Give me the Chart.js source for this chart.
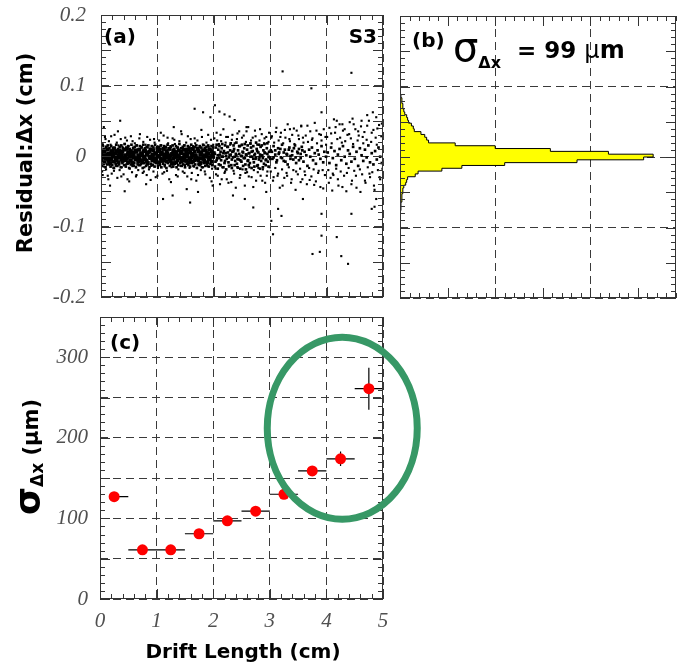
<!DOCTYPE html>
<html>
<head>
<meta charset="utf-8">
<script src="https://cdn.jsdelivr.net/npm/chart.js@4.4.1/dist/chart.umd.min.js"></script>
<style>
  html, body { margin: 0; padding: 0; background: #fff; }
  #wrap { position: relative; width: 677px; height: 666px; overflow: hidden; background: #fff; }
  canvas { position: absolute; }
</style>
</head>
<body>
<div id="wrap">
  <canvas id="chartA" width="392" height="318" style="left:0;top:0;width:392px;height:318px"></canvas>
  <canvas id="chartB" width="285" height="300" style="left:392px;top:0;width:285px;height:300px"></canvas>
  <canvas id="chartC" width="430" height="361" style="left:0;top:305px;width:430px;height:361px"></canvas>
</div>
<script>
// ---- panel (c): resolution per drift-length bin ----
const driftBins  = [0.25, 0.75, 1.25, 1.75, 2.25, 2.75, 3.25, 3.75, 4.25, 4.75];
const sigmaUm    = [127, 61, 61, 81, 97, 109, 130, 159, 174, 261];
const sigmaErr   = [3, 3, 3, 3, 3, 3, 4, 5, 9, 26];
const driftErrLo = [0, 0.25, 0.25, 0.25, 0.25, 0.25, 0.25, 0.25, 0.25, 0.25];
const driftErrHi = [0.25, 0.25, 0.25, 0.25, 0.25, 0.25, 0.25, 0.25, 0.25, 0.25];

// ---- panel (b): residual histogram (bin centre in cm, entries) ----
const histCenters = [-0.074, -0.070, -0.066, -0.062, -0.058, -0.054, -0.050, -0.046, -0.042, -0.038,
  -0.034, -0.030, -0.026, -0.022, -0.018, -0.014, -0.010, -0.006, -0.002,
  0.002, 0.006, 0.010, 0.014, 0.018, 0.022, 0.026, 0.030, 0.034, 0.038,
  0.042, 0.046, 0.050, 0.054, 0.058, 0.062, 0.066, 0.070, 0.074, 0.078, 0.082, 0.086];
const histCounts = [1, 1, 1, 2, 2, 2, 3, 3, 4, 6,
  7, 8, 16, 19, 44, 65, 110, 186, 256,
  266, 219, 158, 100, 58, 30, 28, 26, 22, 15,
  14, 12, 9, 8, 7, 5, 4, 3, 3, 2, 2, 1];
const histBinWidth = 0.004;

// ---- panel (a): residual vs drift length, [drift (1/100 cm), residual (1/1000 cm)] ----
const coreNear = [
  [1,4],[1,-6],[3,-2],[3,8],[6,6],[6,-9],[8,-4],[8,1],[11,9],[11,-3],[13,-7],[13,3],[16,2],[16,-10],[18,7],[18,-5],
  [21,-1],[21,5],[23,-8],[23,10],[26,4],[26,-3],[28,-6],[28,7],[31,0],[31,-9],[33,8],[33,-2],[36,-5],[36,3],[38,6],[38,-7],
  [41,-3],[41,9],[43,1],[43,-6],[46,10],[46,-4],[48,-9],[48,5],[51,3],[51,-1],[53,-7],[53,7],[56,5],[56,-10],[58,-2],[58,2],
  [61,8],[61,-5],[63,-4],[63,6],[66,1],[66,-8],[68,9],[68,-3],[71,-6],[71,4],[73,2],[73,-9],[76,7],[76,-1],[78,-5],[78,8],
  [81,3],[81,-7],[83,-10],[83,5],[86,6],[86,-2],[88,-3],[88,9],[91,0],[91,-6],[93,8],[93,-4],[96,-8],[96,3],[98,4],[98,-5],
  [101,-1],[101,7],[103,9],[103,-9],[106,-4],[106,2],[108,5],[108,-7],[111,-6],[111,10],[113,2],[113,-3],[116,7],[116,-8],
  [118,-2],[118,4],[121,10],[121,-5],[123,-7],[123,1],[126,3],[126,-10],[128,-4],[128,8],[131,6],[131,-2],[133,-9],[133,5],
  [136,1],[136,-6],[138,8],[138,-1],[141,-3],[141,6],[143,4],[143,-8],[146,-6],[146,9],[148,2],[148,-4],[151,7],[151,-7],
  [153,-1],[153,3],[156,9],[156,-9],[158,-5],[158,5],[161,3],[161,-2],[163,-8],[163,10],[166,6],[166,-6],[168,-2],[168,1],
  [171,10],[171,-4],[173,-6],[173,7],[176,2],[176,-10],[178,5],[178,-3],[181,-4],[181,8],[183,1],[183,-7],[186,8],[186,-1],
  [188,-9],[188,4],[191,3],[191,-5],[193,-3],[193,9],[196,7],[196,-8],[198,-1],[198,2],
  [2,0],[7,-1],[12,2],[17,-3],[22,1],[27,-2],[32,3],[37,0],[42,-4],[47,2],[52,-1],[57,4],[62,-3],[67,0],[72,1],[77,-2],
  [82,3],[87,-1],[92,2],[97,-4],[102,0],[107,3],[112,-2],[117,1],[122,-3],[127,2],[132,0],[137,-1],[142,4],[147,-2],
  [152,1],[157,-3],[162,2],[167,0],[172,-4],[177,3],[182,-1],[187,1],[192,-2],[197,0]
];
const coreEdge = [
  [0,12],[2,-14],[3,16],[5,-11],[6,10],[8,-16],[9,13],[11,-12],[12,15],[14,-10],[15,11],[17,-15],[18,14],[20,-13],[21,9],
  [23,-17],[24,12],[26,-11],[27,16],[29,-14],[30,10],[32,-12],[33,13],[35,-16],[36,15],[38,-10],[39,11],[41,-13],[42,17],
  [44,-15],[45,12],[47,-11],[48,14],[50,-17],[51,10],[53,-12],[54,16],[56,-14],[57,11],[59,-10],[60,13],[62,-16],[63,15],
  [65,-12],[66,9],[68,-13],[69,14],[71,-11],[72,12],[74,-17],[75,16],[77,-10],[78,11],[80,-14],[81,13],[83,-12],[84,15],
  [86,-16],[87,10],[89,-11],[90,14],[92,-13],[93,12],[95,-15],[96,16],[98,-10],[99,11],
  [101,-14],[103,13],[104,-12],[106,15],[107,-16],[109,10],[110,-11],[112,14],[113,-13],[115,12],[116,-17],[118,16],
  [119,-10],[121,11],[122,-14],[124,13],[125,-12],[127,15],[128,-15],[130,10],[131,-11],[133,14],[134,-16],[136,12],
  [137,-13],[139,17],[140,-10],[142,11],[143,-14],[145,13],[146,-12],[148,15],[149,-16],[151,10],[152,-11],[154,14],
  [155,-13],[157,12],[158,-15],[160,16],[161,-10],[163,11],[164,-14],[166,13],[167,-12],[169,15],[170,-17],[172,10],
  [173,-11],[175,14],[176,-13],[178,12],[179,-16],[181,16],[182,-10],[184,11],[185,-14],[187,13],[188,-12],[190,15],
  [191,-15],[193,10],[194,-11],[196,14],[197,-13],[199,12],
  [202,-15],[205,16],[207,-18],[210,14],[212,-13],[215,17],[217,-16],[220,15],[222,-19],[225,13],[227,-14],[230,18],
  [232,-17],[235,15],[237,-13],[240,19],[242,-16],[245,14],[247,-18],[250,16],[252,-14],[255,17],[257,-19],[260,15],
  [262,-13],[265,18],[267,-17],[270,14],[272,-15],[275,19],[277,-14],[280,16],[282,-18],[285,15],[287,-16],[290,17],
  [292,-13],[295,18],[297,-15],
  [200,-2],[202,3],[205,-6],[207,1],[210,-3],[212,6],[215,-1],[217,4],[220,-7],[222,0],[225,5],[227,-2],[230,2],[232,-5],
  [235,7],[237,-1],[240,1],[242,-4],[245,3],[247,-6],[250,0],[252,5],[255,-3],[257,2],[260,-7],[262,4],[265,-1],[267,6],
  [270,-4],[272,1],[275,-2],[277,7],[280,-5],[282,2],[285,0],[287,-3],[290,5],[292,-6],[295,3],[297,-1],[300,-4],[303,6],
  [306,-2],[309,8],[312,-6],[315,3],[318,10],[321,-3],[324,5],[327,-8],[330,2],[333,9],[336,-4],[339,1],[342,11],[345,-2],
  [348,6],[351,-6],[354,3],[357,8]
];
const coreFar = [
  [201,5],[203,-8],[204,12],[206,-3],[208,9],[209,-12],[211,2],[213,-6],[214,11],[216,-1],[218,7],[219,-10],[221,4],[223,-4],
  [224,13],[226,-9],[228,1],[229,8],[231,-13],[233,6],[234,-2],[236,10],[238,-7],[239,3],[241,-11],[243,8],[244,-5],[246,14],
  [248,0],[249,-8],[251,6],[253,-3],[254,11],[256,-12],[258,2],[259,9],[261,-6],[263,4],[264,-10],[266,12],[268,-1],[269,7],
  [271,-9],[273,3],[274,-4],[276,10],[278,-13],[279,5],[281,-2],[283,13],[284,-7],[286,1],[288,8],[289,-11],[291,4],[293,-5],
  [294,11],[296,-8],[298,6],[299,-2],
  [301,8],[304,-4],[306,14],[309,2],[311,-9],[314,11],[316,5],[319,-2],[321,16],[324,-7],[326,9],[329,3],[331,-12],[334,12],
  [336,0],[339,7],[341,-5],[344,15],[346,-10],[349,4],[351,10],[354,-3],[356,13],[359,-8],[361,6],[364,1],[366,-14],[369,9],
  [371,-1],[374,12],[376,-6],[379,4],[381,-11],[384,8],[386,2],[389,-4],[391,14],[394,-9],[396,6],[399,-1],
  [402,5],[405,-10],[408,12],[411,-3],[414,7],[417,-13],[420,2],[423,10],[426,-6],[429,14],[432,-1],[435,-11],[438,8],[441,3],
  [444,-8],[447,13],[450,-4],[453,6],[456,-14],[459,11],[462,1],[465,-7],[468,9],[471,-2],[474,15],[477,-9],[480,4],[483,-12],
  [486,7],[489,-5],[492,12],[495,-1],[498,-10]
];
const haloPts = [
  [1,18],[2,-22],[4,14],[5,-15],[7,27],[9,-19],[10,13],[12,-28],[14,21],[15,-13],[17,16],[19,-25],[21,12],[22,-17],[24,30],
  [26,-14],[28,19],[29,-31],[31,15],[33,-20],[35,24],[37,-16],[38,13],[40,-26],[42,17],[44,-12],[46,22],[47,-33],[49,14],
  [51,-18],[53,28],[55,-23],[57,12],[59,-14],[60,18],[62,-29],[64,15],[66,-20],[68,25],[70,-13],[72,13],[74,-24],[75,20],
  [77,-16],[79,16],[81,-27],[83,12],[85,-19],[87,23],[89,-14],[91,14],[93,-22],[95,19],[97,-30],[99,13],
  [101,-17],[103,22],[105,-13],[107,15],[109,-25],[111,29],[113,-15],[115,13],[117,-21],[119,18],[121,-33],[123,14],[125,-16],
  [127,25],[129,-12],[131,17],[133,-27],[135,12],[137,-19],[139,21],[141,-14],[143,31],[145,-22],[147,15],[149,-13],[151,19],
  [153,-29],[155,13],[157,-17],[159,24],[161,-24],[163,14],[165,-15],[167,18],[169,-35],[171,22],[173,-13],[175,12],[177,-20],
  [179,27],[181,-16],[183,15],[185,-26],[187,19],[189,-14],[191,13],[193,-31],[195,23],[197,-18],[199,16],
  [201,25],[203,-18],[205,33],[207,-28],[209,17],[211,-40],[213,21],[215,-16],[217,38],[219,-24],[221,19],[223,-33],[225,27],
  [227,-15],[229,16],[231,-37],[233,30],[235,-21],[237,18],[239,-45],[241,24],[243,-17],[245,35],[247,-27],[249,15],[251,-19],
  [253,29],[255,-42],[257,20],[259,-23],[261,41],[263,-16],[265,17],[267,-30],[269,26],[271,-20],[273,36],[275,-35],[277,16],
  [279,-17],[281,22],[283,-28],[285,31],[287,-19],[289,18],[291,-38],[293,27],[295,-22],[297,20],[299,-16],
  [301,-22],[303,28],[305,-35],[307,19],[309,-17],[311,40],[313,-28],[315,22],[317,-45],[319,33],[321,-19],[323,18],[325,-31],
  [327,26],[329,-24],[331,45],[333,-16],[335,21],[337,-38],[339,30],[341,-20],[343,17],[345,-48],[347,36],[349,-26],[351,24],
  [353,-18],[355,42],[357,-33],[359,19],[361,-22],[363,29],[365,-40],[367,20],[369,-17],[371,35],[373,-29],[375,25],[377,-19],
  [379,47],[381,-36],[383,18],[385,-24],[387,31],[389,-44],[391,22],[393,-20],[395,38],[397,-27],[399,16],
  [401,27],[403,-20],[405,40],[407,-31],[409,18],[411,-25],[413,52],[415,33],[417,-18],[419,24],[421,-42],[423,45],[425,-22],
  [427,19],[429,36],[431,-28],[433,21],[435,-50],[437,30],[439,-17],[441,48],[443,25],[445,-35],[447,17],[449,-21],[451,38],
  [453,-45],[455,22],[457,29],[459,-19],[461,42],[463,-26],[465,18],[467,34],[469,-38],[471,23],[473,-16],[475,50],[477,-30],
  [479,20],[481,-23],[483,37],[485,-48],[487,26],[489,16],[491,-20],[493,44],[495,-33],[497,28],[499,-18],[488,55],[472,58],
  [446,53],[418,50],
  [3,-27],[8,24],[13,-33],[18,28],[23,-21],[30,35],[36,-29],[43,26],[50,-36],[56,21],[63,-27],[69,31],[76,-22],[82,27],
  [88,-34],[94,24],[100,-28],[106,33],[112,-23],[118,26],[124,-37],[130,23],[136,-29],[142,35],[148,-24],[154,28],[160,-33],
  [166,25],[172,-27],[178,37],[184,-22],[190,30],[196,-36],
  [204,-26],[206,22],[212,30],[214,-33],[220,-22],[222,27],[226,-38],[232,23],[236,-25],[242,32],[246,-31],[250,26],[256,-24],
  [258,35],[262,-29],[266,22],[270,-44],[274,28],[278,-23],[282,38],[286,-35],[290,25],[294,-28],[298,33],
  [302,26],[306,-30],[310,34],[314,-25],[318,27],[322,-42],[326,37],[330,-28],[334,24],[338,-33],[342,39],[346,-22],[350,29],
  [354,-37],[358,26],[362,-27],[366,43],[370,-34],[374,23],[378,-41],[382,36],[386,-21],[390,30],[394,-46],[398,27],
  [404,-38],[408,32],[412,-27],[416,41],[420,-33],[424,26],[428,-44],[432,38],[436,-24],[440,31],[444,-40],[448,45],[452,-28],
  [456,35],[460,-51],[464,27],[468,-35],[472,43],[476,-25],[480,33],[484,-42],[490,39],[494,-30],[498,46]
];
const outlierPts = [
  [322,120],[444,118],[373,96],[166,67],[202,72],[210,63],[219,59],[228,56],[237,51],[194,55],[181,62],[129,41],[34,50],
  [258,41],[391,62],[428,45],[462,50],[482,62],[355,43],[335,38],[5,41],
  [110,-61],[158,-66],[172,-51],[270,-73],[314,-75],[302,-92],[320,-85],[305,-111],[391,-82],[391,-113],[375,-139],[388,-136],
  [418,-115],[426,-142],[438,-153],[444,-82],[480,-75],[488,-61],[485,-72],[410,-49],[234,-56],[198,-42],[16,-42],[42,-50],
  [80,-40],[127,-56],[152,-47],[255,-61],[293,-51],[358,-61]
];

// ---- axis ticks ----
const driftTickVals = [0, 1, 2, 3, 4, 5];
const driftTickText = ['0', '1', '2', '3', '4', '5'];
const resTickVals = [-0.2, -0.1, 0, 0.1, 0.2];
const resTickText = ['-0.2', '-0.1', '0', '0.1', '0.2'];
const sigmaTickVals = [0, 50, 100, 150, 200, 250, 300, 350];
const sigmaTickText = ['0', '', '100', '', '200', '', '300', ''];
const countTickVals = [0, 100, 200];

const toXY = pts => pts.map(p => ({x: p[0] / 100, y: p[1] / 1000}));

const histOutline = [];
histCenters.forEach((c, i) => {
  histOutline.push({x: histCounts[i], y: c - histBinWidth / 2});
  histOutline.push({x: histCounts[i], y: c + histBinWidth / 2});
});

Chart.defaults.font.style = 'italic';

const BOLD = '"DejaVu Sans", sans-serif';
const tickFont = {family: '"Liberation Serif", "DejaVu Serif", serif', style: 'italic', size: 21};
const tickColor = '#505050';
const gridStyle = {color: '#3a3a3a', lineWidth: 1, drawTicks: false};
const dashBorder = {display: false, dash: [8, 5]};

function fixSize(w, h) {
  return s => {
    if (w != null) s.width = w;
    if (h != null) s.height = h;
    s.paddingLeft = s.paddingRight = s.paddingTop = s.paddingBottom = 0;
  };
}
function setTicks(vals) {
  return s => { s.ticks = vals.map(v => ({value: v})); };
}

// box round the plot area with inward ticks on all four sides
const framePlugin = {
  id: 'frame',
  afterDraw(chart, args, o) {
    const {ctx, chartArea: a, scales: {x, y}} = chart;
    ctx.save();
    ctx.strokeStyle = '#333';
    ctx.lineWidth = 1;
    ctx.strokeRect(a.left + 0.5, a.top + 0.5, a.right - a.left - 1, a.bottom - a.top - 1);
    ctx.beginPath();
    const nx = Math.round((x.max - x.min) / o.xMinor);
    for (let i = 0; i <= nx; i++) {
      const v = x.min + i * o.xMinor;
      const r = v / o.xMajor;
      const len = Math.abs(r - Math.round(r)) < 1e-6 ? 10 : 5;
      const px = Math.round(x.getPixelForValue(v)) + 0.5;
      ctx.moveTo(px, a.bottom); ctx.lineTo(px, a.bottom - len);
      ctx.moveTo(px, a.top); ctx.lineTo(px, a.top + len);
    }
    const ny = Math.round((y.max - y.min) / o.yMinor);
    for (let i = 0; i <= ny; i++) {
      const v = y.min + i * o.yMinor;
      const r = v / o.yMajor;
      const len = Math.abs(r - Math.round(r)) < 1e-6 ? 10 : 5;
      const py = Math.round(y.getPixelForValue(v)) + 0.5;
      ctx.moveTo(a.left, py); ctx.lineTo(a.left + len, py);
      ctx.moveTo(a.right, py); ctx.lineTo(a.right - len, py);
    }
    ctx.stroke();
    ctx.restore();
  }
};

// free text (with sub-scripts / rotation)
const textPlugin = {
  id: 'texts',
  afterDraw(chart, args, o) {
    const ctx = chart.ctx;
    (o.items || []).forEach(it => {
      ctx.save();
      ctx.translate(it.x, it.y);
      ctx.rotate(it.angle || 0);
      ctx.textBaseline = 'alphabetic';
      ctx.textAlign = 'left';
      let total = 0;
      it.runs.forEach(r => { ctx.font = r.font; total += ctx.measureText(r.t).width; });
      let cx = it.align === 'center' ? -total / 2 : it.align === 'right' ? -total : 0;
      it.runs.forEach(r => {
        ctx.font = r.font;
        ctx.fillStyle = '#000';
        ctx.fillText(r.t, cx, r.dy || 0);
        cx += ctx.measureText(r.t).width;
      });
      ctx.restore();
    });
  }
};

const errorBarPlugin = {
  id: 'errorBars',
  beforeDatasetsDraw(chart) {
    const {ctx, scales: {x, y}} = chart;
    ctx.save();
    ctx.strokeStyle = '#000';
    ctx.lineWidth = 1.2;
    ctx.beginPath();
    driftBins.forEach((d, i) => {
      const px = x.getPixelForValue(d), py = y.getPixelForValue(sigmaUm[i]);
      ctx.moveTo(x.getPixelForValue(d - driftErrLo[i]), py);
      ctx.lineTo(x.getPixelForValue(d + driftErrHi[i]), py);
      ctx.moveTo(px, y.getPixelForValue(sigmaUm[i] - sigmaErr[i]));
      ctx.lineTo(px, y.getPixelForValue(sigmaUm[i] + sigmaErr[i]));
    });
    ctx.stroke();
    ctx.restore();
  }
};

const ringPlugin = {
  id: 'ring',
  afterDraw(chart, args, o) {
    const {ctx, scales: {x, y}} = chart;
    const cx = x.getPixelForValue(o.cx), cy = y.getPixelForValue(o.cy);
    const rx = x.getPixelForValue(o.cx + o.rx) - cx;
    const ry = cy - y.getPixelForValue(o.cy + o.ry);
    ctx.save();
    ctx.strokeStyle = o.color;
    ctx.lineWidth = o.width;
    ctx.beginPath();
    ctx.ellipse(cx, cy, rx, ry, 0, 0, Math.PI * 2);
    ctx.stroke();
    ctx.restore();
  }
};

const dot = (pts, r) => ({
  data: toXY(pts), pointStyle: 'rect', pointRadius: r, pointBorderWidth: 0,
  backgroundColor: '#000', borderColor: '#000'
});

// (a) residual scatter
new Chart(document.getElementById('chartA'), {
  type: 'scatter',
  data: { datasets: [dot(coreNear, 2.8), dot(coreEdge, 1.9), dot(coreFar, 1.9), dot(haloPts, 1.5), dot(outlierPts, 1.5)] },
  options: {
    responsive: false, animation: false, events: [],
    layout: { padding: { top: 15, right: 9, left: 0, bottom: 0 } },
    plugins: {
      legend: { display: false }, tooltip: { enabled: false },
      frame: { xMinor: 0.2, xMajor: 1, yMinor: 0.01, yMajor: 0.05 },
      texts: { items: [
        { x: 104, y: 43, runs: [{ t: '(a)', font: 'bold 20px ' + BOLD }] },
        { x: 377, y: 43, align: 'right', runs: [{ t: 'S3', font: 'bold 20px ' + BOLD }] },
        { x: 32, y: 153, angle: -Math.PI / 2, align: 'center', runs: [{ t: 'Residual:Δx (cm)', font: 'bold 21px ' + BOLD }] }
      ] }
    },
    scales: {
      x: { type: 'linear', min: 0, max: 5, afterBuildTicks: setTicks(driftTickVals),
           ticks: { display: false }, grid: gridStyle, border: dashBorder, afterFit: fixSize(null, 21) },
      y: { type: 'linear', min: -0.2, max: 0.2, afterBuildTicks: setTicks(resTickVals),
           ticks: { font: tickFont, color: tickColor, padding: 15, callback: (v, i) => resTickText[i] },
           grid: gridStyle, border: dashBorder, afterFit: fixSize(101, null) }
    }
  },
  plugins: [framePlugin, textPlugin]
});

// (b) residual histogram, drawn sideways
new Chart(document.getElementById('chartB'), {
  type: 'line',
  data: { datasets: [{
    data: histOutline, borderColor: '#000', borderWidth: 1, backgroundColor: '#ffff00',
    fill: 'origin', pointRadius: 0, tension: 0
  }] },
  options: {
    indexAxis: 'y',
    responsive: false, animation: false, events: [],
    layout: { padding: { top: 16, right: 1, left: 0, bottom: 0 } },
    plugins: {
      legend: { display: false }, tooltip: { enabled: false },
      frame: { xMinor: 10, xMajor: 50, yMinor: 0.01, yMajor: 0.05 },
      texts: { items: [
        { x: 20, y: 47, runs: [{ t: '(b)', font: 'bold 20px ' + BOLD }] },
        { x: 61, y: 61, runs: [
          { t: 'σ', font: '40px ' + BOLD },
          { t: 'Δx', font: 'bold 16px ' + BOLD, dy: 7 },
          { t: '  = 99 ', font: 'bold 23px ' + BOLD, dy: -3 },
          { t: 'μ', font: '24px ' + BOLD, dy: -3 },
          { t: 'm', font: 'bold 24px ' + BOLD, dy: -3 }
        ] }
      ] }
    },
    scales: {
      x: { type: 'linear', min: 0, max: 290, z: 1, afterBuildTicks: setTicks(countTickVals),
           ticks: { display: false }, grid: gridStyle, border: dashBorder, afterFit: fixSize(null, 2) },
      y: { type: 'linear', min: -0.2, max: 0.2, z: 1, afterBuildTicks: setTicks(resTickVals),
           ticks: { display: false }, grid: gridStyle, border: dashBorder, afterFit: fixSize(8, null) }
    }
  },
  plugins: [framePlugin, textPlugin]
});

// (c) sigma vs drift length
new Chart(document.getElementById('chartC'), {
  type: 'scatter',
  data: { datasets: [{
    data: driftBins.map((d, i) => ({ x: d, y: sigmaUm[i] })),
    pointRadius: 5.5, pointBorderWidth: 0, backgroundColor: '#ff0000', borderColor: '#ff0000'
  }] },
  options: {
    responsive: false, animation: false, events: [],
    layout: { padding: { top: 12, right: 47, left: 0, bottom: 0 } },
    plugins: {
      legend: { display: false }, tooltip: { enabled: false },
      frame: { xMinor: 0.2, xMajor: 1, yMinor: 10, yMajor: 50 },
      ring: { cx: 4.28, cy: 212, rx: 1.325, ry: 113, color: '#379866', width: 7 },
      texts: { items: [
        { x: 110, y: 44, runs: [{ t: '(c)', font: 'bold 20px ' + BOLD }] },
        { x: 40, y: 210, angle: -Math.PI / 2, runs: [
          { t: 'σ', font: 'bold 36px ' + BOLD },
          { t: 'Δx', font: 'bold 17px ' + BOLD, dy: 3 },
          { t: ' (μm)', font: 'bold 21px ' + BOLD, dy: -2 }
        ] },
        { x: 243, y: 353, align: 'center', runs: [{ t: 'Drift Length (cm)', font: 'bold 20px ' + BOLD }] }
      ] }
    },
    scales: {
      x: { type: 'linear', min: 0, max: 5, afterBuildTicks: setTicks(driftTickVals),
           ticks: { font: tickFont, color: tickColor, padding: 10, maxRotation: 0, callback: (v, i) => driftTickText[i] },
           grid: gridStyle, border: dashBorder, afterFit: fixSize(null, 67) },
      y: { type: 'linear', min: 0, max: 350, afterBuildTicks: setTicks(sigmaTickVals),
           ticks: { font: tickFont, color: tickColor, padding: 12, callback: (v, i) => sigmaTickText[i] },
           grid: gridStyle, border: dashBorder, afterFit: fixSize(100, null) }
    }
  },
  plugins: [framePlugin, textPlugin, errorBarPlugin, ringPlugin]
});
</script>
</body>
</html>
